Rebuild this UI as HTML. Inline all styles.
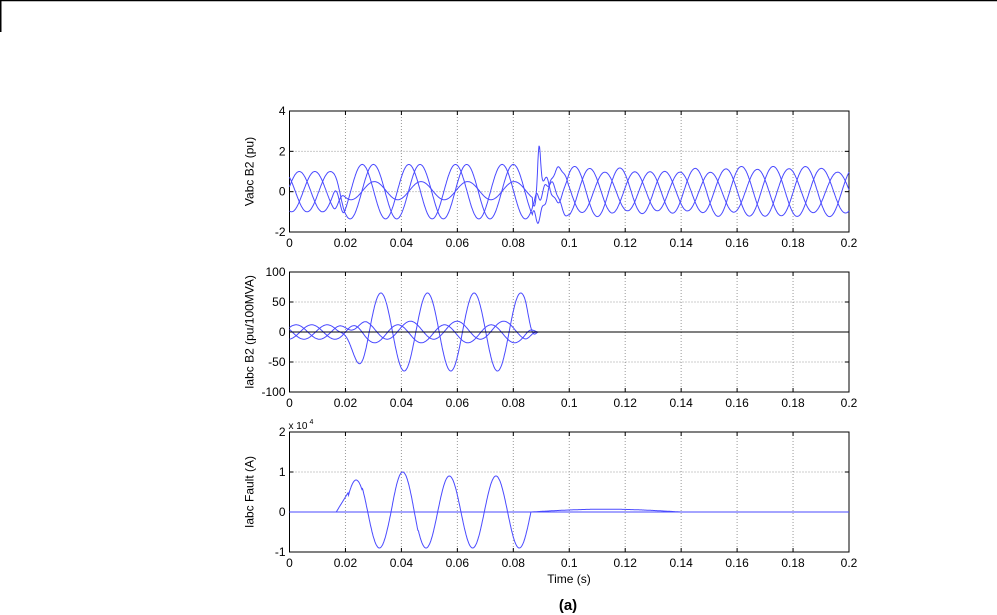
<!DOCTYPE html>
<html><head><meta charset="utf-8"><style>
html,body{margin:0;padding:0;background:#fff;}
svg{display:block;font-family:"Liberation Sans",Arial,sans-serif;}
</style></head><body>
<svg id="s" width="997" height="615" xmlns="http://www.w3.org/2000/svg">
<line x1="0" y1="0.5" x2="997" y2="0.5" stroke="#000" stroke-width="1.5"/>
<line x1="0.75" y1="0" x2="0.75" y2="32" stroke="#000" stroke-width="1.5"/>
<g id="g"></g>
<text x="569" y="583" font-size="12" text-anchor="middle">Time (s)</text>
<text x="568" y="610" font-size="15" font-weight="bold" text-anchor="middle">(a)</text>
</svg>
<script>
var NS="http://www.w3.org/2000/svg",G=document.getElementById('g');
var X0=289.5,X1=849;
function el(n,a,t){var e=document.createElementNS(NS,n);for(var k in a)e.setAttribute(k,a[k]);if(t!==undefined)e.textContent=t;G.appendChild(e);return e;}
function X(t){return X0+t/0.2*(X1-X0);}
var W=2*Math.PI*60;
function panel(top,bot,ymin,ymax,yt,ylab,series){
  function Y(v){return bot-(v-ymin)/(ymax-ymin)*(bot-top);}
  for(var i=1;i<10;i++){var x=X(i*0.02);el('line',{x1:x,y1:top,x2:x,y2:bot,stroke:'#999','stroke-dasharray':'1,2','stroke-width':1});}
  yt.forEach(function(v){var y=Y(v);if(v!=ymin&&v!=ymax)el('line',{x1:X0,y1:y,x2:X1,y2:y,stroke:'#999','stroke-dasharray':'1,2','stroke-width':1});
    el('text',{x:X0-4,y:y+4,'font-size':12,'text-anchor':'end'},String(v));
    el('line',{x1:X0,y1:y,x2:X0+4,y2:y,stroke:'#000'});el('line',{x1:X1,y1:y,x2:X1-4,y2:y,stroke:'#000'});});
  for(var i=0;i<=10;i++){var x=X(i*0.02);var l=(i==0?'0':(i*0.02).toFixed(2).replace(/0$/,''));
    el('text',{x:x,y:bot+15,'font-size':12,'text-anchor':'middle'},l);
    el('line',{x1:x,y1:bot,x2:x,y2:bot-4,stroke:'#000'});el('line',{x1:x,y1:top,x2:x,y2:top+4,stroke:'#000'});}
  el('rect',{x:X0,y:top,width:X1-X0,height:bot-top,fill:'none',stroke:'#000','stroke-width':1});
  el('text',{transform:'translate('+(X0-36)+','+((top+bot)/2)+') rotate(-90)','font-size':12,'text-anchor':'middle'},ylab);
  series.forEach(function(s){var d='',t0=s[1],t1=s[2];for(var t=t0;t<=t1+1e-9;t+=0.0002){var v=s[0](t);d+=(d?'L':'M')+X(t).toFixed(1)+','+Y(v).toFixed(1);}
    el('path',{d:d,fill:'none',stroke:s[3]||'#4a4aff','stroke-width':1});});
}
var tf=0.0167;
function sm(a,b,t){if(t<=a)return 0;if(t>=b)return 1;var u=(t-a)/(b-a);return u*u*(3-2*u);}
function vph(k){return function(t){
  var pre=Math.cos(W*(t-0.0035)-k*2*Math.PI/3);
  var A=(k==1)?0.45:1.35, ph=[0.026,0.047,0.030][k];
  var dur=A*Math.cos(W*(t-ph))+(k==1?0.05:0);
  var post=(1.1+0.15*Math.sin(2*Math.PI*12*t+k))*Math.cos(W*(t-0.1012)-k*2*Math.PI/3+0.3*Math.sin(2*Math.PI*8*t));
  var a=sm(tf-0.001,tf+0.003,t),b=sm(0.087,0.1,t);
  var v=(1-a)*pre+a*((1-b)*dur+b*post);
  if(t>0.087&&t<0.1){v+=0.35*Math.sin(2*Math.PI*350*t+k*2)*Math.exp(-(t-0.087)/0.006);}
  if(k==0)v+=1.7*Math.exp(-Math.pow((t-0.0892)/0.0007,2));
  return v;};}
panel(111,232,-2,4,[-2,0,2,4],'Vabc B2 (pu)',[[vph(0),0,0.2],[vph(1),0,0.2],[vph(2),0,0.2]]);
function iph(k){return function(t){
  var pre=12*Math.cos(W*t-k*2*Math.PI/3+1.2);
  var dur=(k==0)?65*Math.sin(W*(t-0.0285)):15*Math.sin(W*(t-0.0285)+(k==1?2.3:-2.3))+(k==1?3:-3);
  var a=sm(tf,0.028,t),b=sm(0.084,0.089,t);
  return (1-b)*((1-a)*pre+a*dur);};}
panel(272,392,-100,100,[-100,-50,0,50,100],'Iabc B2 (pu/100MVA)',[[iph(1),0,0.095],[iph(2),0,0.095],[iph(0),0,0.095],[function(){return 0;},0,0.2,'#000']]);
function fc(t){
  if(t<0.021)return (t-tf)/(0.021-tf)*0.49;
  if(t>0.0862){var u=(t-0.0862)/(0.14-0.0862);return 0.07*Math.sin(Math.PI*Math.min(u,1));}
  var env=(t<0.026)?0.8:0.9; if(t>0.036&&t<0.046)env=1.0;
  return env*Math.sin(W*(t-0.0363));}
panel(432,552,-1,2,[-1,0,1,2],'Iabc Fault (A)',[[function(){return 0;},0,0.2],[fc,tf,0.14]]);
el('text',{x:X0-1,y:429,'font-size':10},'x 10');
el('text',{x:X0+20,y:424,'font-size':7},'4');
</script>
</body></html>
